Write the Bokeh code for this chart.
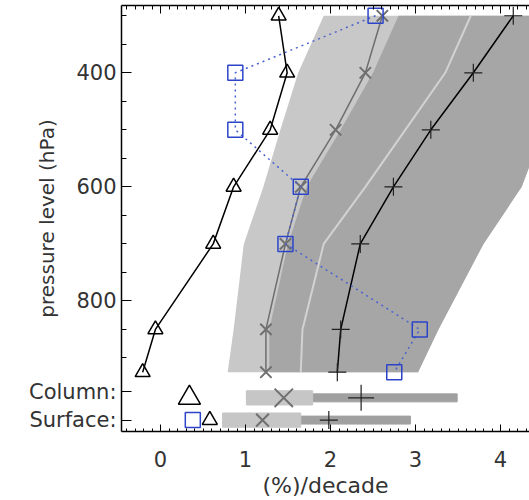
import math
from bokeh.plotting import figure
from bokeh.models import Range1d, FixedTicker, LinearAxis
from bokeh.embed import file_html
from bokeh.resources import INLINE

# ---- data ----
levels = [300, 400, 500, 600, 700, 850, 925]
obs_tri = [1.39, 1.49, 1.29, 0.86, 0.62, -0.06, -0.21]
obs_sq = [2.53, 0.88, 0.88, 1.65, 1.47, 3.05, 2.75]
model_x = [2.61, 2.41, 2.06, 1.65, 1.47, 1.24, 1.24]
model_plus = [4.15, 3.68, 3.18, 2.74, 2.35, 2.12, 2.08]
mid_line = [3.65, 3.35, 2.88, 2.41, 1.92, 1.67, 1.65]
light_left = [1.92, 1.62, 1.41, 1.21, 0.98, 0.86, 0.79]
dark_left = [2.80, 2.50, 2.12, 1.72, 1.50, 1.28, 1.28]
dark_right = [4.60, 4.60, 4.50, 4.25, 3.80, 3.27, 3.03]

row_names = ["Column:", "Surface:"]
row_p = [970, 1009]
row_tri = [0.34, 0.58]
row_x = [1.45, 1.20]
row_plus = [2.36, 1.98]
light_bar_left = [1.01, 0.73]
light_bar_right = [1.79, 1.65]
dark_bar_left = [1.23, 1.02]
dark_bar_right = [3.49, 2.94]
surface_sq = [0.38]

x_major = [0, 1, 2, 3, 4]
x_minor = [round(-0.4 + 0.1 * i, 1) for i in range(48)]
y_major = [400, 600, 800, 959, 1009]
y_labels = {400: "400", 600: "600", 800: "800", 959: row_names[0], 1009: row_names[1]}
y_minor = [300, 350, 400, 450, 500, 550, 600, 650, 700, 750, 800, 850, 900]

FONT = "DejaVu Sans"
TXT = "#333333"

p = figure(width=529, height=500, output_backend="svg", toolbar_location=None,
           x_range=Range1d(-0.459, 4.341), y_range=Range1d(1029, 282),
           min_border_left=121, min_border_right=0, min_border_top=5, min_border_bottom=60,
           x_axis_label="(%)/decade", y_axis_label="pressure level (hPa)")
p.outline_line_color = None
p.xgrid.visible = False
p.ygrid.visible = False
p.background_fill_color = "white"

# shaded bands
p.patch(light_left + dark_right[::-1], levels + levels[::-1], color="#c8c8c8", line_color=None)
p.patch(dark_left + dark_right[::-1], levels + levels[::-1], color="#a6a6a6", line_color=None)
p.line(mid_line, levels, line_color="#d2d2d2", line_width=2)

# model X line
p.line(model_x, levels, line_color="#6e6e6e", line_width=1.5)
p.scatter(model_x, levels, marker="x", size=16, line_color="#707070", line_width=2)

# model plus line
p.line(model_plus, levels, line_color="black", line_width=1.5)
p.scatter(model_plus, levels, marker="cross", size=18, line_color="#202020", line_width=1.2)

# triangles
p.line(obs_tri, levels, line_color="black", line_width=1.5)
p.scatter(obs_tri, levels, marker="triangle", size=15, fill_color=None, line_color="black", line_width=1.5)

# squares
p.line(obs_sq, levels, line_color="#4a62d0", line_width=1.5, line_dash="2 4")
p.scatter(obs_sq, levels, marker="square", size=15, fill_color=None, line_color="#2c44c8", line_width=1.5)

# column / surface rows
p.hbar(y=row_p, left=dark_bar_left, right=dark_bar_right, height=14, color="#a0a0a0")
p.hbar(y=row_p, left=light_bar_left, right=light_bar_right, height=25, color="#c6c6c6")
p.scatter(row_x, row_p, marker="x", size=[26, 18], line_color="#707070", line_width=2)
p.scatter(row_plus, row_p, marker="cross", size=[26, 18], line_color="#202020", line_width=1.2)
p.scatter(row_tri, row_p, marker="triangle", size=[22, 15], fill_color=None, line_color="black", line_width=1.5)
p.scatter(surface_sq, [row_p[1]], marker="square", size=15, fill_color=None, line_color="#2c44c8", line_width=1.5)

# axes
bottom = p.below[0]
left = p.left[0]
bottom.ticker = FixedTicker(ticks=x_major, minor_ticks=x_minor)
left.ticker = FixedTicker(ticks=y_major, minor_ticks=y_minor)
left.major_label_overrides = y_labels

top = LinearAxis(ticker=FixedTicker(ticks=x_major, minor_ticks=x_minor),
                 major_label_text_font_size="0px", major_label_standoff=0,
                 major_label_text_alpha=0)
p.add_layout(top, "above")

for ax in [bottom, left, top]:
    ax.axis_line_width = 1.5
    ax.axis_line_color = "black"
    ax.major_tick_line_color = "black"
    ax.minor_tick_line_color = "black"
    ax.major_tick_out = 0
    ax.minor_tick_out = 0
    ax.major_label_text_font = FONT
    ax.major_label_text_color = TXT
    ax.axis_label_text_font = FONT
    ax.axis_label_text_color = TXT
    ax.axis_label_text_font_style = "normal"

left.major_tick_in = 10
left.minor_tick_in = 5
bottom.major_tick_in = 7
bottom.minor_tick_in = 3
top.major_tick_in = 8
top.minor_tick_in = 4

left.major_label_text_font_size = "21px"
left.major_label_standoff = 5
left.axis_label_text_font_size = "20px"
left.axis_label_standoff = -33
bottom.major_label_text_font_size = "21px"
bottom.major_label_standoff = 19
bottom.axis_label_text_font_size = "22px"
bottom.axis_label_standoff = 3

open("out.html", "w").write(file_html(p, INLINE))
